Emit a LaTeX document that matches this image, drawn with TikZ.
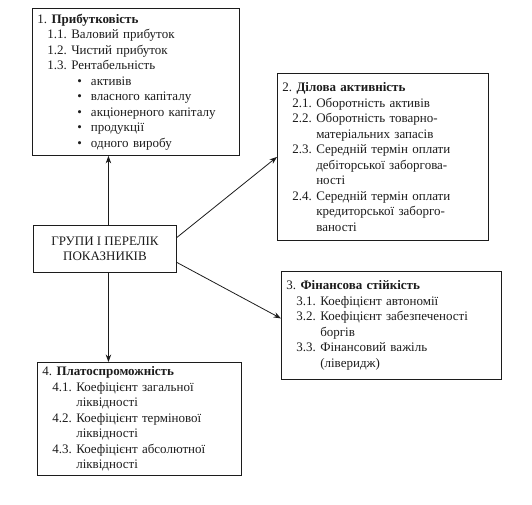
\documentclass[tikz,border=0pt]{standalone}
\usepackage{fontspec}
\setmainfont{Liberation Serif}
\usetikzlibrary{positioning, arrows.meta}
\definecolor{inkblack}{RGB}{28,28,28}
\tikzset{
  grpbox/.style={draw=inkblack, line width=0.9pt, text=inkblack, anchor=north west,
    font=\fontsize{13}{15.5}\selectfont, align=left, inner xsep=5pt, inner ysep=4pt},
  hubbox/.style={draw=inkblack, line width=0.9pt, text=inkblack, anchor=north west,
    font=\fontsize{13}{15.5}\selectfont, align=center},
  link/.style={draw=inkblack, line width=0.8pt, -{Stealth[length=7.5pt, width=5.5pt]}},
}
\newcommand{\subln}[2]{\hspace*{10pt}#1\ #2}
\newcommand{\contln}[2]{\hspace*{10pt}\phantom{#1\ }#2}
\newcommand{\bulln}[1]{\hspace*{40pt}\textbullet\hspace*{9pt}#1}

\begin{document}
\begin{tikzpicture}[x=1pt, y=-1pt]
\useasboundingbox (0,0) rectangle (532,505);

% ============================================================ hub
\node[hubbox, minimum width=143pt, minimum height=47pt] (grp) at (33,225)
  {ГРУПИ І ПЕРЕЛІК\\ПОКАЗНИКІВ};

% ============================================================ 1: profitability
\node[grpbox, text width=197pt, minimum height=147pt] (prib) at (32,8)
  {1.\ \textbf{Прибутковість}\\
   \subln{1.1.}{Валовий прибуток}\\
   \subln{1.2.}{Чистий прибуток}\\
   \subln{1.3.}{Рентабельність}\\
   \bulln{активів}\\
   \bulln{власного капіталу}\\
   \bulln{акціонерного капіталу}\\
   \bulln{продукції}\\
   \bulln{одного виробу}};

% ============================================================ 2: business activity
\node[grpbox, text width=201pt, minimum height=167pt] (dil) at (277,73)
  {2.\ \textbf{Ділова активність}\\
   \subln{2.1.}{Оборотність активів}\\
   \subln{2.2.}{Оборотність товарно-}\\
   \contln{2.2.}{матеріальних запасів}\\
   \subln{2.3.}{Середній термін оплати}\\
   \contln{2.3.}{дебіторської заборгова-}\\
   \contln{2.3.}{ності}\\
   \subln{2.4.}{Середній термін оплати}\\
   \contln{2.4.}{кредиторської заборго-}\\
   \contln{2.4.}{ваності}};

% ============================================================ 3: financial stability
\node[grpbox, text width=210pt, minimum height=108pt] (fin) at (281,271)
  {3.\ \textbf{Фінансова стійкість}\\
   \subln{3.1.}{Коефіцієнт автономії}\\
   \subln{3.2.}{Коефіцієнт забезпеченості}\\
   \contln{3.2.}{боргів}\\
   \subln{3.3.}{Фінансовий важіль}\\
   \contln{3.3.}{(ліверидж)}};

% ============================================================ 4: solvency
\node[grpbox, text width=194pt, minimum height=113pt, inner ysep=2pt] (plat) at (37,362)
  {4.\ \textbf{Платоспроможність}\\
   \subln{4.1.}{Коефіцієнт загальної}\\
   \contln{4.1.}{ліквідності}\\
   \subln{4.2.}{Коефіцієнт термінової}\\
   \contln{4.2.}{ліквідності}\\
   \subln{4.3.}{Коефіцієнт абсолютної}\\
   \contln{4.3.}{ліквідності}};

% ============================================================ links
\draw[link] ([xshift=3.5pt]grp.north) -- ([xshift=3.5pt]grp.north |- prib.south);
\draw[link] ([yshift=11.5pt]grp.east) -- (dil.west);
\draw[link] ([yshift=-13.5pt]grp.east) -- ([yshift=7pt]fin.west);
\draw[link] ([xshift=3.5pt]grp.south) -- ([xshift=3.5pt]grp.south |- plat.north);
\end{tikzpicture}
\end{document}
